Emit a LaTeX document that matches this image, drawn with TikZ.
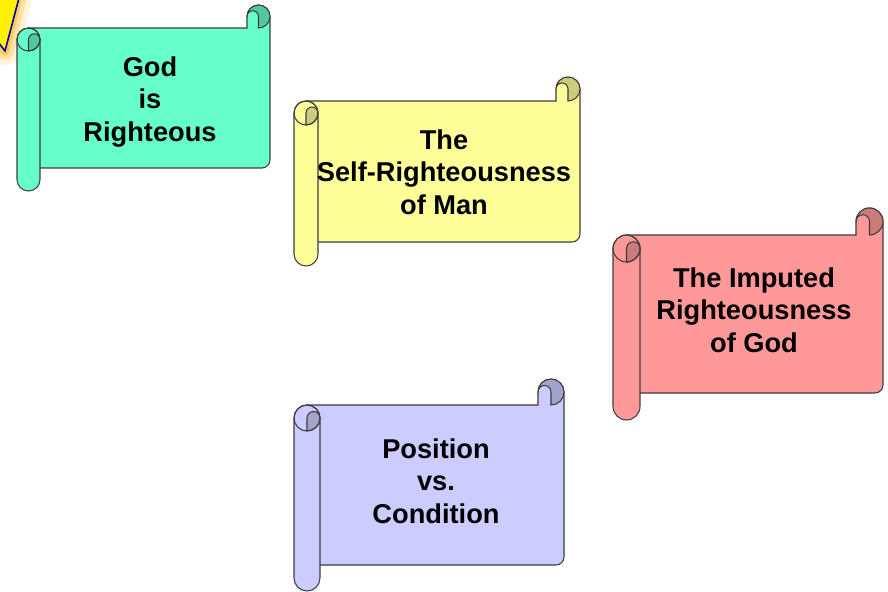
\documentclass[tikz,border=0pt]{standalone}
\usepackage{fontspec}
\setmainfont{Liberation Sans}
\usetikzlibrary{calc}
\definecolor{greenlight}{HTML}{66FFCC}
\definecolor{greendark}{HTML}{52C8A0}
\definecolor{yellowlight}{HTML}{FFFF99}
\definecolor{yellowdark}{HTML}{CCCC7A}
\definecolor{redlight}{HTML}{FF9999}
\definecolor{reddark}{HTML}{CC7A7A}
\definecolor{bluelight}{HTML}{CCCCFF}
\definecolor{bluedark}{HTML}{A3A3CC}
\definecolor{scrollline}{HTML}{3C3C3C}
% scroll: x0, y0, width, height, roll radius, light, dark
\newcommand{\scrollshape}[7]{%
  \filldraw[fill=#6] ({#1+#5},#2) -- ({#1+#3-2*#5},#2) -- ({#1+#3-2*#5},{#2-#5})
    arc (180:360:#5) -- ({#1+#3},{#2+#4-8}) arc (0:90:8) -- ({#1+#5},{#2+#4}) -- cycle;
  \filldraw[fill=#7] ({#1+#3-2*#5},{#2-#5}) arc (180:450:#5)
    -- ({#1+#3-#5},{#2-#5}) arc (360:180:{#5/2}) -- cycle;
  \filldraw[fill=#6] (#1,{#2+#5}) -- (#1,{#2+#4+#5}) arc (180:0:#5)
    -- ({#1+2*#5},{#2+#5}) arc (0:-180:#5) -- cycle;
  \filldraw[fill=#7] ({#1+2*#5},{#2+#5}) arc (0:90:#5) -- ({#1+#5},{#2+#5})
    arc (180:360:{#5/2}) -- cycle;
  \draw ({#1+#5},{#2+#5}) circle (#5);
}

\begin{document}
\begin{tikzpicture}[x=0.02cm,y=-0.02cm,line width=0.6pt,draw=scrollline,
  every node/.style={align=center,font=\fontsize{15.5}{18.4}\selectfont\bfseries}]
  \useasboundingbox (0,0) rectangle (888,591);
  % glowing corner of the shape cut off at the top left
  \draw[line width=16pt,orange!60!yellow,opacity=.15,line join=round] (-5,-8) -- (19,-8) -- (5,51) -- (-5,43);
  \draw[line width=10pt,orange!70!yellow,opacity=.25,line join=round] (-5,-8) -- (19,-8) -- (5,51) -- (-5,43);
  \draw[line width=5pt,orange!60!yellow,opacity=.45,line join=round] (-5,-8) -- (19,-8) -- (5,51) -- (-5,43);
  \fill[yellow] (-2,-2) -- (19,-2) -- (5,51) -- (-2,42) -- cycle;
  \draw[blue!70!black,line width=0.9pt] (19,-2) -- (5,51) -- (-2,42);

  \scrollshape{17}{28}{253}{140}{11.5}{greenlight}{greendark}
  \scrollshape{294}{101}{286}{141}{12}{yellowlight}{yellowdark}
  \scrollshape{613}{235}{270}{158}{13.5}{redlight}{reddark}
  \scrollshape{294}{405}{270}{160}{13}{bluelight}{bluedark}

  \node (godrighteous) at (150,102) {God\\is\\Righteous};
  \node (selfman) at (444,172) {The\\Self-Righteousness\\of Man};
  \node (imputedgod) at (754,310) {The Imputed\\Righteousness\\of God};
  \node (position) at (436,481) {Position\\vs.\\Condition};
\end{tikzpicture}
\end{document}
